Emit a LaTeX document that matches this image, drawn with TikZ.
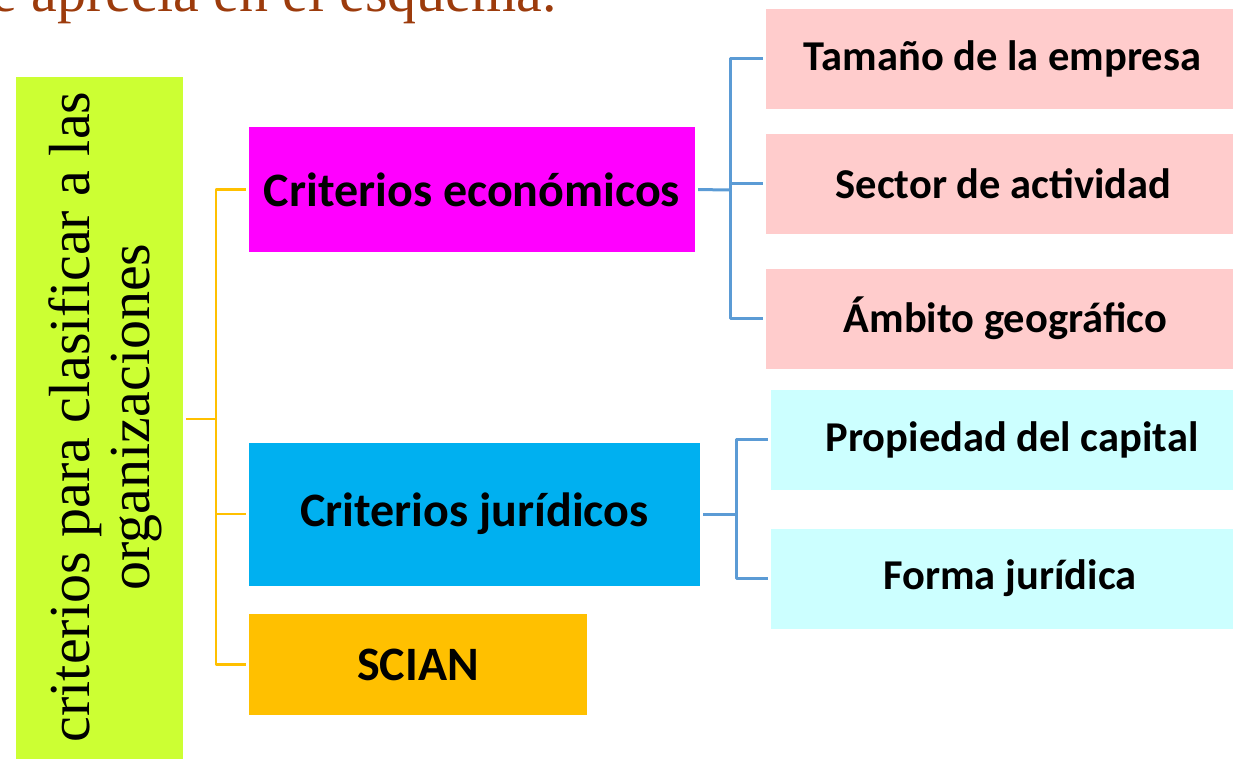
\documentclass[tikz,border=0pt]{standalone}
\usepackage{fontspec}
\setmainfont{Liberation Serif}
\newfontfamily\boxfont{Carlito}
\definecolor{limebox}{HTML}{CCFF33}
\definecolor{magbox}{HTML}{FF00FF}
\definecolor{bluebox}{HTML}{00B0F0}
\definecolor{orangebox}{HTML}{FFC000}
\definecolor{pinkbox}{HTML}{FFCCCC}
\definecolor{cyanbox}{HTML}{CCFFFF}
\definecolor{linkblue}{HTML}{5B9BD5}
\definecolor{titlebrown}{HTML}{9C3B0C}
\tikzset{
  crit/.style={fill=#1, inner sep=0pt, font=\boxfont\bfseries\fontsize{48}{54}\selectfont},
  leaf/.style={fill=#1, inner sep=0pt, minimum height=100pt, font=\boxfont\bfseries\fontsize{42.5}{48}\selectfont},
  trunk/.style={draw=orangebox, line width=2.2pt, shorten <=3pt},
  twig/.style={draw=linkblue, line width=3pt, shorten <=3pt}
}
\begin{document}
\begin{tikzpicture}[x=1pt, y=-1pt, line join=round]
			\useasboundingbox (0,0) rectangle (1233,759);
			\node[anchor=base west, text=titlebrown, font=\fontsize{58}{60}\selectfont] (title) at (-12,12) {e aprecia en el esquema.};
			\node[fill=limebox, minimum width=167pt, minimum height=684pt, inner sep=0pt] (main) at (99.5,419) {};
			\node[rotate=90, align=center, font=\fontsize{58}{60}\selectfont] (mainlbl) at (105,417) {criterios para clasificar a las\\organizaciones};
			\node[crit=magbox, minimum width=446pt, minimum height=125pt] (eco) at (472,189.5) {Criterios económicos};
			\node[crit=bluebox, minimum width=451pt, minimum height=143pt] (jur) at (474.5,514) {Criterios jurídicos};
			\node[crit=orangebox, minimum width=338pt, minimum height=101pt] (scian) at (418,664.5) {SCIAN};
			\node[leaf=pinkbox, minimum width=467pt] (tam) at (999.5,59) {\hspace{6pt}Tamaño de la empresa};
			\node[leaf=pinkbox, minimum width=467pt] (sec) at (999.5,184) {\hspace{8pt}Sector de actividad};
			\node[leaf=pinkbox, minimum width=467pt] (amb) at (999.5,318.5) {\hspace{12pt}Ámbito geográfico};
			\node[leaf=cyanbox, minimum width=462pt] (prop) at (1002,439.5) {\hspace{20pt}Propiedad del capital};
			\node[leaf=cyanbox, minimum width=462pt] (forma) at (1002,578.5) {\hspace{16pt}Forma jurídica};
			% orange trunk
			\coordinate (oj) at (216,419);
			\draw[trunk] (main.east) -- (oj);
			\draw[trunk] (eco.west) -| (oj);
			\draw[trunk] (jur.west) -| (oj);
			\draw[trunk] (scian.west) -| (oj);
			% blue twigs
			\coordinate (ej) at (730,190);
			\draw[twig] (eco.east) -- (ej);
			\draw[twig] (tam.west) -| (ej);
			\draw[twig] (sec.west) -| (ej);
			\draw[twig] (amb.west) -| (ej);
			\coordinate (jj) at (736,514);
			\draw[twig] (jur.east) -- (jj);
			\draw[twig] (prop.west) -| (jj);
			\draw[twig] (forma.west) -| (jj);
		\end{tikzpicture}
\end{document}
